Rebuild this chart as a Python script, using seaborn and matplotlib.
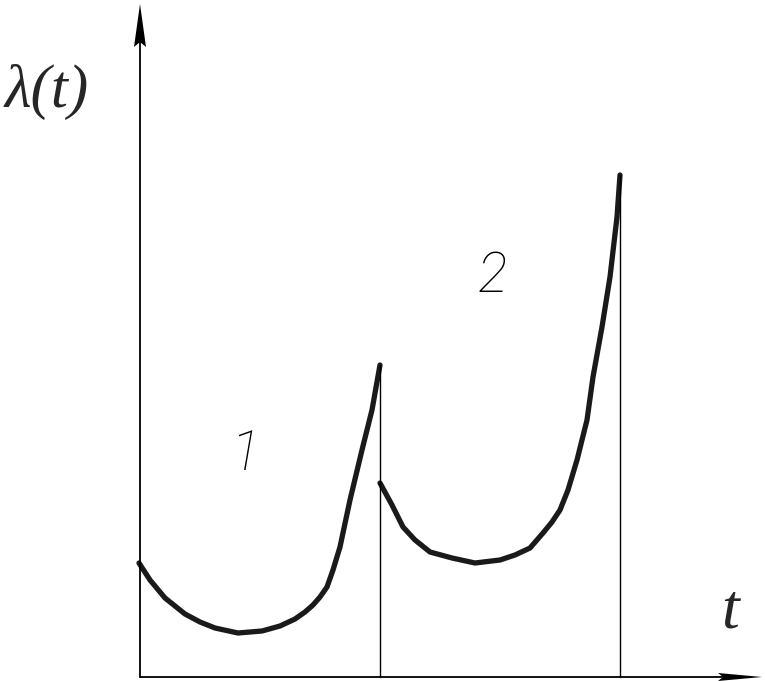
import numpy as np
import matplotlib
matplotlib.use("Agg")
import matplotlib.pyplot as plt
import seaborn as sns
import pandas as pd

# curve 1: first interval (t, lambda)
t1 = [-1, 10, 25, 45, 60, 75, 98, 122, 140, 155, 165, 173, 180, 187, 193, 200,
      210, 222, 232, 240]
lam1 = [114, 97, 79, 63, 55, 49, 44, 46, 51, 58, 65, 72, 80, 90, 107, 130,
        177, 227, 267, 312]

# curve 2: second interval
t2 = [240, 252, 263, 275, 290, 312, 335, 360, 375, 390, 403, 412, 420, 428, 437,
      447, 453, 462, 470, 477, 480]
lam2 = [194, 172, 150, 137, 125, 119, 114, 117, 122, 129, 144, 155, 167, 187, 217,
        257, 300, 350, 400, 460, 502]

# interval borders (vertical lines)
borders = [240, 480]
border_tops = [312, 502]

labels = ["1", "2"]
label_t = [105, 352]
label_lam = [222, 400]

df1 = pd.DataFrame({"t": t1, "lam": lam1})
df2 = pd.DataFrame({"t": t2, "lam": lam2})

sns.set_theme(style="white")
fig = plt.figure(figsize=(7.65, 6.81), dpi=100)
ax = fig.add_axes([0, 0, 1, 1])
ax.set_xlim(-140, 625)
ax.set_ylim(-4, 677)
ax.axis("off")

ink = "#1a1a1a"
sns.lineplot(data=df1, x="t", y="lam", sort=False, estimator=None, ax=ax,
             color=ink, linewidth=3.8, solid_capstyle="round", solid_joinstyle="round")
sns.lineplot(data=df2, x="t", y="lam", sort=False, estimator=None, ax=ax,
             color=ink, linewidth=3.8, solid_capstyle="round", solid_joinstyle="round")

for b, top in zip(borders, border_tops):
    ax.plot([b, b], [0, top], color="black", linewidth=1.0)

# axes with arrows
ax.plot([0, 0], [0, 640], color="black", linewidth=1.3)
ax.fill([-6, 0, 6, 0], [630, 673, 630, 635], color="black", lw=0)
ax.plot([0, 585], [0, 0], color="black", linewidth=1.3)
ax.fill([578, 622, 578, 583], [-4, 0, 4, 0], color="black", lw=0)

ax.text(-93, 585, "λ(t)", fontsize=44, family="Liberation Serif",
        style="italic", ha="center", va="center")
ax.text(590, 65, "t", fontsize=46, family="Liberation Serif",
        style="italic", ha="center", va="center")

for lab, lt, ll in zip(labels, label_t, label_lam):
    ax.text(lt, ll, lab, fontsize=40, family="Roboto", fontweight="light",
            style="italic", ha="center", va="center", color="black")

fig.savefig("out.png", dpi=100)
